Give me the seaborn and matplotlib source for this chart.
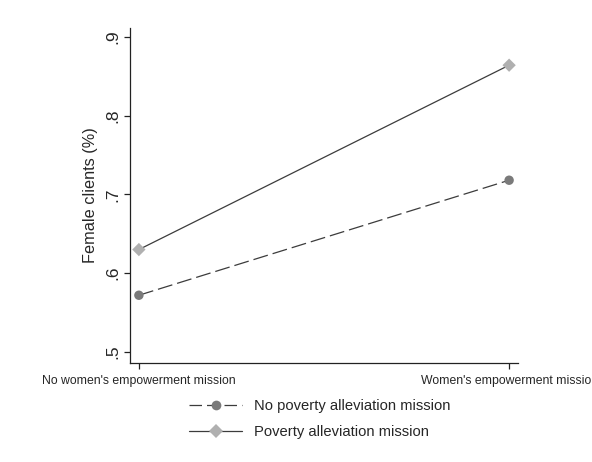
import pandas as pd
import matplotlib.pyplot as plt
import seaborn as sns
from matplotlib.lines import Line2D

# data
empowerment = ["No women's empowerment mission", "Women's empowerment mission"]
no_poverty = [0.572, 0.718]
poverty = [0.630, 0.864]
series_names = ["No poverty alleviation mission", "Poverty alleviation mission"]
y_ticks = [0.5, 0.6, 0.7, 0.8, 0.9]
y_tick_labels = [".5", ".6", ".7", ".8", ".9"]

df = pd.DataFrame({
    'empowerment': empowerment * 2,
    'share': no_poverty + poverty,
    'poverty': [series_names[0]] * 2 + [series_names[1]] * 2,
})

sns.set_style('white')
plt.rcParams['font.family'] = ['Liberation Sans', 'DejaVu Sans']

fig = plt.figure(figsize=(5.92, 4.62), dpi=100)
ax = fig.add_axes([0.2196, 0.2143, 0.6554, 0.7247])

line_color = '#3c3c3c'
marker_colors = {series_names[0]: '#7a7a7a', series_names[1]: '#b0b0b0'}
marker_shapes = {series_names[0]: 'o', series_names[1]: 'D'}
dash_styles = {series_names[0]: (12, 4), series_names[1]: ''}

sns.lineplot(data=df, x='empowerment', y='share', style='poverty',
             dashes=dash_styles, color=line_color, linewidth=0.9,
             legend=False, ax=ax, sort=False)
sns.scatterplot(data=df, x='empowerment', y='share', hue='poverty',
                style='poverty', palette=marker_colors, markers=marker_shapes,
                s=46, linewidth=0, legend=False, ax=ax, zorder=3)

ax.set_xlim(-0.024, 1.024)
ax.set_ylim(0.486, 0.911)
ax.set_yticks(y_ticks)
ax.set_yticklabels(y_tick_labels, rotation=90, va='center', fontsize=12.5)
ax.tick_params(axis='x', bottom=True, labelsize=8.8, length=4, width=0.9,
               color='#222222', pad=5)
ax.tick_params(axis='y', left=True, length=4, width=0.9, color='#222222', pad=3)
ax.set_xlabel('')
ax.set_ylabel('Female clients (%)', fontsize=11.7, labelpad=5)

sns.despine(ax=ax)
for sp in ['left', 'bottom']:
    ax.spines[sp].set_color('#222222')
    ax.spines[sp].set_linewidth(0.9)

handles = [
    Line2D([], [], color=line_color, lw=0.9, dashes=(10, 4),
           marker='o', markerfacecolor=marker_colors[series_names[0]],
           markeredgewidth=0, markersize=7),
    Line2D([], [], color=line_color, lw=0.9,
           marker='D', markerfacecolor=marker_colors[series_names[1]],
           markeredgewidth=0, markersize=7),
]
fig.legend(handles, series_names, loc='upper center', bbox_to_anchor=(0.54, 0.165),
           frameon=False, fontsize=10.6, handlelength=3.6, labelspacing=0.8,
           handletextpad=0.8)

fig.savefig('out.png', dpi=100)
